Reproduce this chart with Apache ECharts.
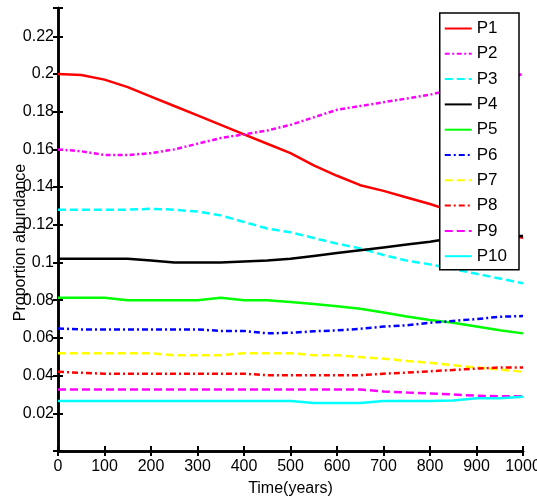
<!DOCTYPE html>
<html><head><meta charset="utf-8">
<script src="https://cdn.jsdelivr.net/npm/echarts@6/dist/echarts.min.js"></script>
<style>html,body{margin:0;padding:0;background:#fff}#c{width:537px;height:502px}</style>
</head><body><div id="c"></div>
<script>
const years = [0,50,100,150,200,250,300,350,400,450,500,550,600,650,700,750,800,850,900,950,1000];
const P1  = [0.200,0.1995,0.197,0.193,0.188,0.183,0.178,0.173,0.168,0.163,0.158,0.1515,0.146,0.141,0.138,0.1345,0.131,0.127,0.122,0.117,0.113];
const P2  = [0.160,0.159,0.157,0.157,0.158,0.160,0.163,0.166,0.168,0.170,0.173,0.177,0.181,0.183,0.185,0.187,0.189,0.192,0.194,0.197,0.200];
const P3  = [0.128,0.128,0.128,0.128,0.1285,0.128,0.127,0.125,0.1215,0.118,0.116,0.113,0.110,0.1075,0.104,0.101,0.099,0.0965,0.094,0.0915,0.089];
const P4  = [0.102,0.102,0.102,0.102,0.101,0.100,0.100,0.100,0.1005,0.101,0.102,0.1035,0.105,0.1065,0.108,0.1095,0.111,0.113,0.1135,0.114,0.114];
const P5  = [0.0813,0.0813,0.0813,0.080,0.080,0.080,0.080,0.0813,0.080,0.080,0.079,0.078,0.0768,0.0755,0.0735,0.0713,0.0695,0.068,0.066,0.064,0.0624];
const P6  = [0.065,0.0645,0.0645,0.0645,0.0645,0.0645,0.0645,0.0637,0.0637,0.0624,0.0627,0.0635,0.064,0.0648,0.066,0.0667,0.068,0.069,0.070,0.0712,0.0716];
const P7  = [0.0519,0.0519,0.0519,0.0519,0.0519,0.0508,0.0508,0.0508,0.0519,0.0519,0.0519,0.0508,0.0508,0.0498,0.049,0.0478,0.0468,0.0455,0.0443,0.0432,0.042];
const P8  = [0.042,0.0415,0.041,0.041,0.041,0.041,0.041,0.041,0.041,0.0402,0.0402,0.0402,0.0402,0.0402,0.041,0.0416,0.0423,0.043,0.0437,0.0443,0.0443];
const P9  = [0.0326,0.0326,0.0326,0.0326,0.0326,0.0326,0.0326,0.0326,0.0326,0.0326,0.0326,0.0326,0.0326,0.0326,0.0316,0.031,0.0305,0.030,0.0293,0.029,0.029];
const P10 = [0.0265,0.0265,0.0265,0.0265,0.0265,0.0265,0.0265,0.0265,0.0265,0.0265,0.0265,0.0254,0.0254,0.0254,0.0265,0.0265,0.0265,0.0268,0.028,0.028,0.0288];
const names = ['P1','P2','P3','P4','P5','P6','P7','P8','P9','P10'];
const values = [P1,P2,P3,P4,P5,P6,P7,P8,P9,P10];
const colors = ['#ff0000','#ff00ff','#00ffff','#000000','#00ff00','#0000ff','#ffff00','#ff0000','#ff00ff','#00ffff'];
const dashes = ['solid',[5,2.5,2,2.5],[8,4],'solid','solid',[6,3,2,3],[8,4],[6,3,2,3],[8,4],'solid'];

const FF = '"Liberation Sans",Arial,sans-serif';
const TS = {fontFamily:FF, fontSize:16, color:'#000'};
const chart = echarts.init(document.getElementById('c'), null, {renderer:'canvas'});
const axLine = {show:true, lineStyle:{color:'#000', width:2.5}};
const tick = {show:true, inside:true, length:5, lineStyle:{color:'#000', width:2}};
chart.setOption({
  animation:false,
  backgroundColor:'#fff',
  grid:{left:58, right:14, top:8, bottom:51, containLabel:false, outerBoundsMode:'none'},
  legend:{
    orient:'vertical', right:18, top:13,
    data:names,
    itemWidth:27, itemHeight:14, itemGap:8.3,
    padding:[7,12,5,4],
    backgroundColor:'#fff', borderColor:'#000', borderWidth:1.5,
    itemStyle:{opacity:0},
    textStyle:Object.assign({}, TS, {fontSize:17})
  },
  xAxis:[
    {type:'value', min:0, max:1000, interval:100, position:'bottom',
     axisLine:axLine, axisTick:tick, splitLine:{show:false},
     axisLabel:Object.assign({margin:8, formatter:function(v){return String(v);}}, TS),
     name:'Time(years)', nameLocation:'middle', nameGap:30, nameMoveOverlap:false,
     nameTextStyle:TS},
    {type:'value', min:0, max:1000, interval:100, position:'top',
     axisLine:axLine, axisTick:tick, axisLabel:{show:false}, splitLine:{show:false}}
  ],
  yAxis:[
    {type:'value', min:0, max:0.235, interval:0.02, position:'left',
     axisLine:axLine, axisTick:tick, splitLine:{show:false},
     axisLabel:Object.assign({margin:4,
       formatter:function(v){ if(v===0 || v>0.225) return ''; return String(+v.toFixed(2)); }}, TS),
     name:'Proportion abundance', nameLocation:'middle', nameGap:29, nameMoveOverlap:false,
     nameTextStyle:Object.assign({padding:[0,26,0,0]}, TS)},
    {type:'value', min:0, max:0.235, interval:0.02, position:'right',
     axisLine:axLine, axisTick:tick, axisLabel:{show:false}, splitLine:{show:false}}
  ],
  series: names.map((n,i)=>({
    name:n, type:'line', symbol:'none', xAxisIndex:0, yAxisIndex:0,
    data: years.map((t,j)=>[t, values[i][j]]),
    lineStyle:{color:colors[i], width:2.5, type:dashes[i]},
    itemStyle:{color:colors[i]}
  }))
});
</script></body></html>
